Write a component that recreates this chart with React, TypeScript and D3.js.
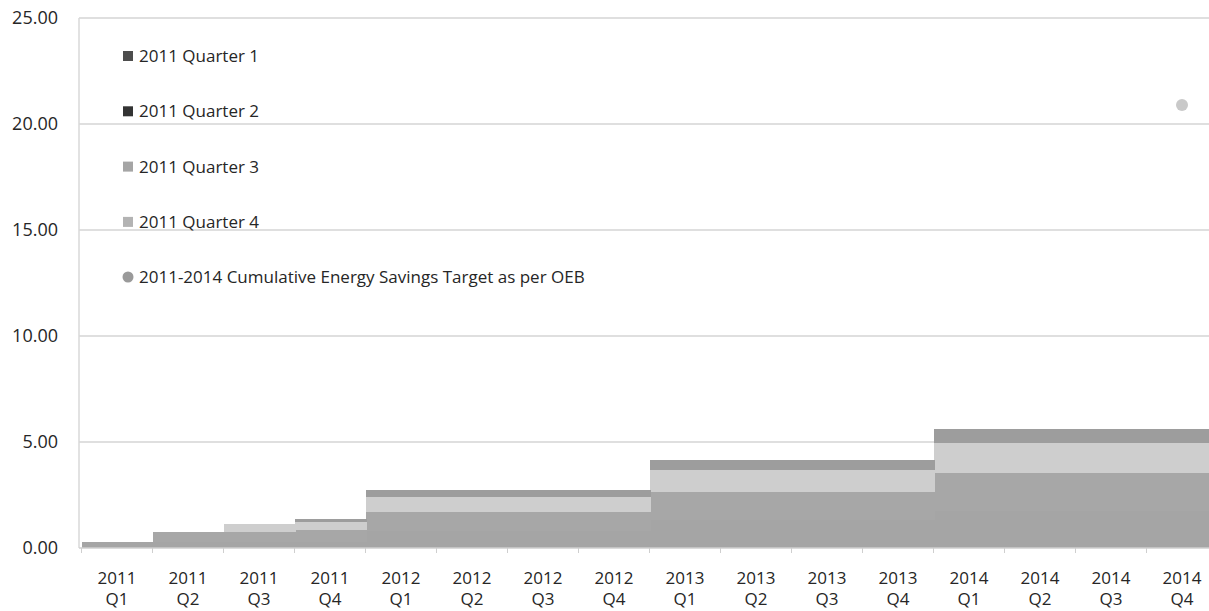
import React, { useEffect } from 'react';
import * as d3 from 'd3';

// Categories (reporting quarters) and tick labels
const categories = [
  '2011 Q1', '2011 Q2', '2011 Q3', '2011 Q4',
  '2012 Q1', '2012 Q2', '2012 Q3', '2012 Q4',
  '2013 Q1', '2013 Q2', '2013 Q3', '2013 Q4',
  '2014 Q1', '2014 Q2', '2014 Q3', '2014 Q4',
];
const yTicks = [0, 5, 10, 15, 20, 25];

// Stacked series values
const quarter1 = [0.30, 0.30, 0.30, 0.30, 0.80, 0.80, 0.80, 0.80, 1.30, 1.30, 1.30, 1.30, 1.75, 1.75, 1.75, 1.75];
const quarter2 = [0.00, 0.47, 0.47, 0.55, 0.90, 0.90, 0.90, 0.90, 1.36, 1.36, 1.36, 1.36, 1.80, 1.80, 1.80, 1.80];
const quarter3 = [0.00, 0.00, 0.35, 0.39, 0.71, 0.71, 0.71, 0.71, 1.02, 1.02, 1.02, 1.02, 1.39, 1.39, 1.39, 1.39];
const quarter4 = [0.00, 0.00, 0.00, 0.13, 0.34, 0.34, 0.34, 0.34, 0.47, 0.47, 0.47, 0.47, 0.67, 0.67, 0.67, 0.67];
const target = [null, null, null, null, null, null, null, null, null, null, null, null, null, null, null, 20.9];

const seriesNames = ['2011 Quarter 1', '2011 Quarter 2', '2011 Quarter 3', '2011 Quarter 4'];
const barColors = ['#a5a5a5', '#a7a7a7', '#cecece', '#9d9d9d'];
const swatchColors = ['#4d4d4d', '#333333', '#a5a5a5', '#b3b3b3'];
const targetName = '2011-2014 Cumulative Energy Savings Target as per OEB';

const W = 1209;
const H = 611;
const FONT = '"Open Sans", sans-serif';

export default function App() {
  useEffect(() => {
    document.body.style.margin = '0';
  }, []);

  const x = d3.scaleBand<string>().domain(categories).range([81.5, 1217.5]).padding(0);
  const y = d3.scaleLinear().domain([0, 25]).range([548, 18]);

  const rows = categories.map((c, i) => ({
    cat: c,
    q1: quarter1[i],
    q2: quarter2[i],
    q3: quarter3[i],
    q4: quarter4[i],
  }));
  const stacked = d3.stack<any>().keys(['q1', 'q2', 'q3', 'q4'])(rows);

  return (
    <svg width={W} height={H} style={{ display: 'block', background: '#fff' }}>
      {/* gridlines */}
      {yTicks.filter(t => t > 0).map(t => (
        <line key={t} x1={79} x2={W} y1={y(t)} y2={y(t)} stroke="#d4d4d4" strokeWidth={1.5} />
      ))}
      {/* y axis line */}
      <line x1={79} x2={79} y1={y(25)} y2={y(0)} stroke="#d8d8d8" strokeWidth={1.5} />

      {/* stacked bars, touching */}
      {stacked.map((layer, si) => (
        <g key={si} fill={barColors[si]} shapeRendering="crispEdges">
          {layer.map((d, i) => (
            d[1] - d[0] > 0 ? (
              <rect
                key={i}
                x={Math.round(x(categories[i])!)}
                y={Math.round(y(d[1]))}
                width={Math.round(x.bandwidth()) + 1}
                height={Math.round(y(d[0])) - Math.round(y(d[1]))}
              />
            ) : null
          ))}
        </g>
      ))}

      {/* x axis */}
      <line x1={79} x2={W} y1={y(0)} y2={y(0)} stroke="#cfcfcf" strokeWidth={1.5} />
      {categories.map(c => (
        <line key={c} x1={x(c)!} x2={x(c)!} y1={y(0)} y2={y(0) + 5} stroke="#cfcfcf" strokeWidth={1} />
      ))}

      {/* target point */}
      {target.map((v, i) => (
        v == null ? null : (
          <circle key={i} cx={x(categories[i])! + x.bandwidth() / 2} cy={y(v)} r={6} fill="#c9c9c9" />
        )
      ))}

      {/* y tick labels */}
      {yTicks.map(t => (
        <text key={t} x={58} y={y(t)} dy="0.35em" textAnchor="end" fontFamily={FONT} fontSize={18} fill="#262626">
          {d3.format('.2f')(t)}
        </text>
      ))}

      {/* x tick labels */}
      {categories.map(c => {
        const [yr, q] = c.split(' ');
        const cx = x(c)! + x.bandwidth() / 2;
        return (
          <text key={c} x={cx} textAnchor="middle" fontFamily={FONT} fontSize={17} fill="#262626">
            <tspan x={cx} y={584}>{yr}</tspan>
            <tspan x={cx} y={605}>{q}</tspan>
          </text>
        );
      })}

      {/* legend */}
      {seriesNames.map((name, i) => {
        const cy = 56 + i * 55.3;
        return (
          <g key={name}>
            <rect x={123} y={cy - 5} width={10} height={10} fill={swatchColors[i]} />
            <text x={139} y={cy} dy="0.35em" fontFamily={FONT} fontSize={17} fill="#262626">{name}</text>
          </g>
        );
      })}
      <g>
        <circle cx={128} cy={277} r={5.5} fill="#9a9a9a" />
        <text x={139} y={277} dy="0.35em" fontFamily={FONT} fontSize={17} fill="#262626">{targetName}</text>
      </g>
    </svg>
  );
}
